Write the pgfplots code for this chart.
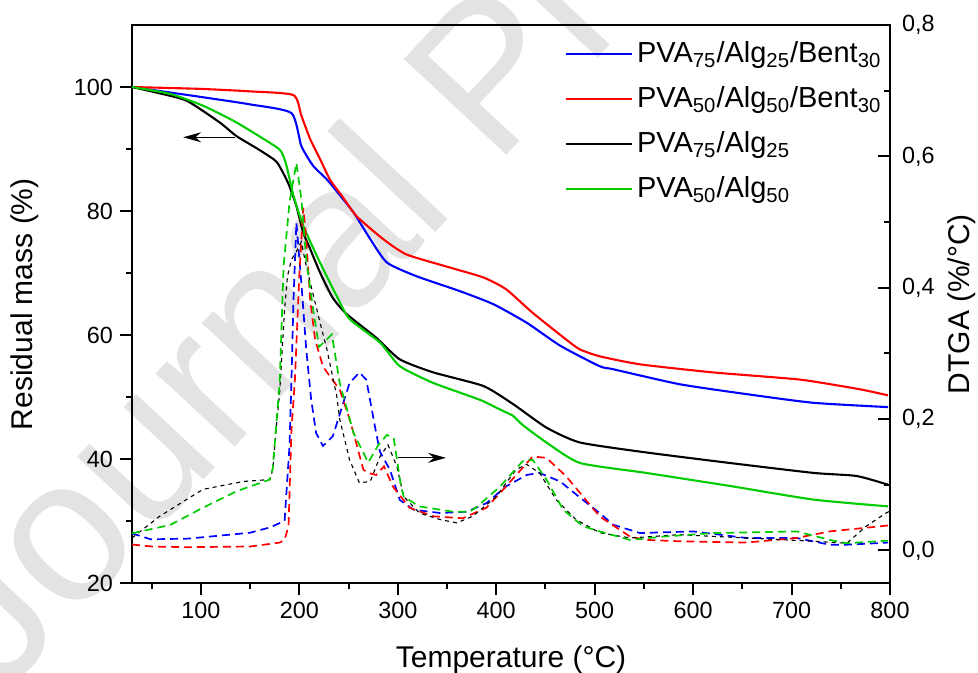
\documentclass[border=0pt]{standalone}
\usepackage{fontspec}
\setmainfont{Liberation Sans}
\usepackage{pgfplots}
\pgfplotsset{compat=1.18}
\usetikzlibrary{arrows.meta}
\definecolor{cblue}{rgb}{0,0,1}
\definecolor{cred}{rgb}{1,0,0}
\definecolor{cgreen}{rgb}{0,0.8,0}
\pgfplotsset{
  common/.style={
    scale only axis, width=379pt, height=279.15pt,
    xmin=30, xmax=800,
    axis line style={line width=1pt},
    every tick/.style={line width=1pt, black},
    major tick length=6pt, minor tick length=3pt,
    tick label style={font=\fontsize{11.7}{14}\selectfont},
    /pgf/number format/assume math mode=true,
  },
  dtg/.style={dash pattern=on 4pt off 2.5pt, line width=0.85pt},
  dtgk/.style={dash pattern=on 2pt off 2pt, line width=0.55pt, black},
  tg/.style={line width=1.05pt, smooth, tension=0.35},
}
\begin{document}
\begin{tikzpicture}
\node[rotate=47, anchor=base west, text=black!11, font=\fontsize{102}{102}\selectfont] at (-68pt,-60pt) {Journal Pre-proof};
\begin{axis}[common,
  ymin=20, ymax=110,
  xtick={100,200,300,400,500,600,700,800},
  minor xtick={50,150,250,350,450,550,650,750},
  ytick={20,40,60,80,100},
  minor ytick={30,50,70,90},
  xtick pos=left, ytick pos=left, tick align=outside,
  xlabel={Temperature (°C)},
  ylabel={Residual mass (\%)},
  every axis x label/.style={at={(axis description cs:0.5,0)}, anchor=base, yshift=-42.3pt, font=\fontsize{15}{18}\selectfont},
  every axis y label/.style={at={(axis description cs:-0.141,0.5)}, rotate=90, anchor=center, font=\fontsize{15}{18}\selectfont},
  legend style={draw=none, fill=none, at={(0.5634,0.985)}, anchor=north west,
    font=\fontsize{14.5}{17}\selectfont, row sep=6.5pt,
    /tikz/every even column/.append style={column sep=0pt}},
  legend cell align=left,
  legend image code/.code={\draw[#1] (0pt,0pt) -- (33pt,0pt);},
]
\addlegendimage{draw=cblue, line width=0.8pt}
\addlegendentry{PVA\textsubscript{75}/Alg\textsubscript{25}/Bent\textsubscript{30}}
\addlegendimage{draw=cred, line width=0.8pt}
\addlegendentry{PVA\textsubscript{50}/Alg\textsubscript{50}/Bent\textsubscript{30}}
\addlegendimage{draw=black, line width=0.8pt}
\addlegendentry{PVA\textsubscript{75}/Alg\textsubscript{25}}
\addlegendimage{draw=cgreen, line width=0.8pt}
\addlegendentry{PVA\textsubscript{50}/Alg\textsubscript{50}}
\addplot[tg, cblue, forget plot] coordinates {
(30,100) (100,98.4) (150,97.2) (192,95.8) (202,90.5) (214,87.3) (228,85.1) (243,82.2)
(255,79.8) (272,75.5) (289,71.7) (319,69.5) (363,67.1) (397,65.0) (431,62.0) (465,58.3)
(505,55.0) (519,54.5) (586,52.1) (654,50.5) (722,49.1) (798,48.4)};
\addplot[tg, cred, forget plot] coordinates {
(30,100) (100,99.7) (150,99.3) (194,98.7) (202,95.4) (211,91.6) (221,88.4) (231,85.1)
(243,82.5) (258,79.2) (285,75.5) (309,73.0) (353,70.9) (387,69.3) (410,67.4) (437,63.6)
(471,59.3) (485,57.7) (505,56.6) (546,55.3) (620,54.0) (705,52.9) (739,52.1) (772,51.2) (798,50.3)};
\addplot[tg, black, forget plot] coordinates {
(30,100) (55,99.1) (85.5,97.8) (119,94.3) (136,92.1) (158,90.0) (173.5,88.4) (178.5,87.6)
(185,85.7) (190,84.0) (197,80.8) (204,76.5) (211,73.9) (221,70.1) (234,66.0) (248,63.4)
(278,59.6) (302,56.1) (336,54.0) (387,51.8) (417,48.9) (451,45.1) (485,42.7) (552,41.1)
(637,39.4) (722,37.8) (766,37.3) (798,35.9)};
\addplot[tg, cgreen, forget plot] coordinates {
(30,100) (68.6,98.9) (102,97.0) (136,94.3) (175,90.5) (182,89.5) (187,87.3) (194,82.5)
(204,77.6) (221,71.7) (238,66.3) (251,62.6) (282,58.8) (302,55.0) (336,52.3) (383,49.6)
(404,48.0) (417,47.0) (427,45.5) (451,42.7) (485,39.4) (552,37.8) (637,35.7) (722,33.5) (798,32.4)};
\draw[-{Stealth[length=9pt,width=5pt]}, line width=0.6pt] (axis cs:134.5,91.9) -- (axis cs:82,91.9);
\end{axis}
\begin{axis}[common,
  ymin=-0.05, ymax=0.8,
  axis y line*=right, axis x line=none,
  ytick={0,0.2,0.4,0.6,0.8},
  minor ytick={0.1,0.3,0.5,0.7},
  ytick align=inside,
  yticklabel style={xshift=2.5pt, /pgf/number format/.cd, fixed, fixed zerofill, precision=1, use comma},
  ylabel={DTGA (\%/°C)},
  every axis y label/.style={at={(axis description cs:1.095,0.5)}, rotate=90, anchor=center, font=\fontsize{15}{18}\selectfont},
]
\addplot[dtg, cblue] coordinates {
(30,0.026) (49,0.017) (87,0.018) (150,0.027) (170,0.035) (185,0.045) (190,0.159) (192,0.26)
(194,0.38) (197,0.499) (202,0.408) (207,0.306) (212,0.23) (217,0.179) (224,0.159) (234,0.174)
(251,0.255) (261,0.271) (268,0.26) (278,0.179) (282,0.15) (292,0.123) (302,0.077) (316,0.062)
(343,0.057) (370,0.059) (390,0.072) (410,0.0975) (431,0.115) (444,0.118) (465,0.105) (488,0.077)
(505,0.057) (519,0.039) (546,0.0265) (600,0.029) (654,0.019) (705,0.019) (739,0.0087) (756,0.0087) (798,0.012)};
\addplot[dtg, cred] coordinates {
(30,0.009) (50,0.006) (87,0.005) (150,0.006) (180,0.012) (185,0.016) (189,0.037) (192,0.184)
(195.5,0.26) (200,0.42) (204,0.522) (207,0.474) (211,0.382) (216,0.321) (224,0.28) (231,0.265)
(241,0.245) (251,0.2) (255,0.179) (265,0.123) (270,0.118) (278,0.115) (286,0.128) (295,0.0975)
(312,0.065) (336,0.052) (366,0.049) (390,0.065) (410,0.0975) (437,0.143) (451,0.141) (471,0.113)
(491,0.077) (505,0.052) (536,0.021) (553,0.016) (586,0.014) (654,0.012) (705,0.019) (739,0.029)
(772,0.034) (798,0.038)};
\addplot[dtgk] coordinates {
(30,0.019) (58,0.052) (102,0.093) (143,0.105) (170,0.108) (173,0.123) (177,0.194) (180,0.24)
(185,0.367) (188,0.418) (192,0.443) (197,0.455) (202,0.47) (206,0.44) (211,0.408) (221,0.347)
(228,0.306) (238,0.235) (241,0.2) (251,0.138) (261,0.103) (272,0.105) (282,0.143) (290,0.161)
(299,0.128) (306,0.082) (322,0.057) (343,0.047) (360,0.042) (376,0.052) (400,0.082) (420,0.123)
(431,0.131) (444,0.118) (461,0.077) (481,0.047) (505,0.027) (536,0.019) (586,0.024) (654,0.019)
(722,0.014) (756,0.011) (776,0.037) (796,0.057) (800,0.06)};
\addplot[dtg, cgreen] coordinates {
(30,0.026) (69,0.039) (102,0.065) (136,0.09) (170,0.108) (173,0.125) (177,0.2) (180,0.255)
(184,0.433) (190,0.53) (197,0.59) (202,0.535) (207,0.443) (214,0.367) (220,0.31) (227,0.32)
(233,0.329) (241,0.255) (255,0.179) (270,0.134) (280,0.16) (289,0.176) (296,0.17) (303,0.1)
(306,0.082) (322,0.067) (356,0.059) (373,0.059) (380,0.066) (404,0.0975) (427,0.136) (437,0.138)
(451,0.108) (468,0.062) (488,0.037) (505,0.029) (536,0.016) (569,0.021) (620,0.0265) (705,0.029)
(739,0.016) (756,0.011) (798,0.015)};
\draw[-{Stealth[length=9pt,width=5pt]}, line width=0.6pt] (axis cs:300,0.141) -- (axis cs:349,0.141);
\end{axis}
\pgfresetboundingbox
\useasboundingbox (-66pt,-44.85pt) rectangle (423pt,291.65pt);
\end{tikzpicture}
\end{document}
